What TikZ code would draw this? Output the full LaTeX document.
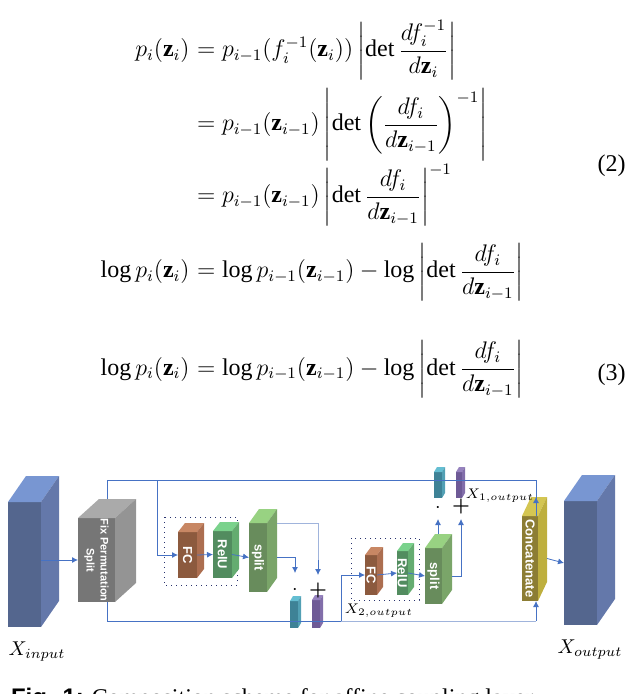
\documentclass[tikz,border=0pt]{standalone}
\usepackage{amsmath}
\usepackage{fontspec}
\setmainfont{Liberation Serif}
\setsansfont{Liberation Sans}
\usetikzlibrary{arrows.meta,calc}

\definecolor{lnblue}{RGB}{70,114,196}
\definecolor{pale}{RGB}{160,180,220}
\definecolor{boxline}{RGB}{40,50,110}
\definecolor{infront}{RGB}{84,102,142}\definecolor{inside}{RGB}{100,120,170}\definecolor{intop}{RGB}{120,150,210}
\definecolor{gyfront}{RGB}{118,118,118}\definecolor{gyside}{RGB}{148,148,148}\definecolor{gytop}{RGB}{170,170,170}
\definecolor{fcfront}{RGB}{140,90,62}\definecolor{fcside}{RGB}{172,110,80}\definecolor{fctop}{RGB}{200,135,100}
\definecolor{rlfront}{RGB}{82,140,95}\definecolor{rlside}{RGB}{100,172,112}\definecolor{rltop}{RGB}{122,210,140}
\definecolor{spfront}{RGB}{104,140,92}\definecolor{spside}{RGB}{122,165,105}\definecolor{sptop}{RGB}{152,210,130}
\definecolor{tlfront}{RGB}{62,130,150}\definecolor{tlside}{RGB}{82,160,180}\definecolor{tltop}{RGB}{100,190,210}
\definecolor{pufront}{RGB}{110,90,150}\definecolor{puside}{RGB}{130,110,170}\definecolor{putop}{RGB}{150,130,190}
\definecolor{ccfront}{RGB}{140,125,52}\definecolor{ccside}{RGB}{190,175,62}\definecolor{cctop}{RGB}{212,198,82}

% name, x, y, w, h, dx, dy, colour, label
\newcommand\prism[9]{%
  \node[face, fill=#8front, minimum width=#4*0.5pt, minimum height=#5*0.5pt,
        anchor=north west] (#1) at (#2,#3) {};
  \fill[#8top] (#1.north west) -- ++(#6,-#7) -- ($(#1.north east)+(#6,-#7)$) -- (#1.north east) -- cycle;
  \fill[#8side] (#1.north east) -- ++(#6,-#7) -- ($(#1.south east)+(#6,-#7)$) -- (#1.south east) -- cycle;
  \node[lbl] (#1-t) at (#1.center) {#9};}

\begin{document}
\begin{tikzpicture}[x=0.5pt, y=-0.5pt,
    face/.style={draw=none, inner sep=0pt, outer sep=0pt},
    lbl/.style={rotate=-90, text=white, inner sep=0pt, font=\sffamily\bfseries\fontsize{6.5}{7}\selectfont, align=center},
    eq/.style={inner sep=0pt, font=\fontsize{12}{14}\selectfont},
    arr/.style={draw=lnblue, line width=0.4pt, -{Latex[length=3pt,width=3pt]}},
    ln/.style={draw=lnblue, line width=0.4pt},
    pl/.style={draw=pale, line width=0.4pt},
    dotbox/.style={draw=boxline, dotted, line width=0.5pt}]
\useasboundingbox (0,0) rectangle (636,694);

% equations
\node[eq, anchor=base east] (l1) at (190,57) {$p_i(\mathbf{z}_i)$};
\node[eq, anchor=base west] (r1) at (190,57) {${}=p_{i-1}(f_i^{-1}(\mathbf{z}_i))\left|\det\dfrac{df_i^{-1}}{d\mathbf{z}_i}\right|$};
\node[eq, anchor=base west] (r2) at (190,131) {${}=p_{i-1}(\mathbf{z}_{i-1})\left|\det\left(\dfrac{df_i}{d\mathbf{z}_{i-1}}\right)^{-1}\right|$};
\node[eq, anchor=base west] (r3) at (190,203) {${}=p_{i-1}(\mathbf{z}_{i-1})\left|\det\dfrac{df_i}{d\mathbf{z}_{i-1}}\right|^{-1}$};
\node[eq, anchor=base east] (l4) at (190,278) {$\log p_i(\mathbf{z}_i)$};
\node[eq, anchor=base west] (r4) at (190,278) {${}=\log p_{i-1}(\mathbf{z}_{i-1})-\log\left|\det\dfrac{df_i}{d\mathbf{z}_{i-1}}\right|$};
\node[eq, anchor=base east] (l5) at (190,375) {$\log p_i(\mathbf{z}_i)$};
\node[eq, anchor=base west] (r5) at (190,375) {${}=\log p_{i-1}(\mathbf{z}_{i-1})-\log\left|\det\dfrac{df_i}{d\mathbf{z}_{i-1}}\right|$};
\node[eq, anchor=base east] (n2) at (626,172) {(2)};
\node[eq, anchor=base east] (n3) at (626,380) {(3)};

% blocks
\prism{in}{8}{502}{33}{125}{18}{26}{in}{}
\prism{perm}{78}{518}{37}{84}{21}{19}{gy}{\fontsize{5.5}{7}\selectfont Fix Permutation\\\fontsize{5.5}{7}\selectfont Split}
\draw[dotbox] (164,517) rectangle (237,585);
\draw[dotbox] (351,538) rectangle (419,600);
\prism{fca}{178}{532}{19}{46}{7}{9}{fc}{FC}
\prism{rla}{213}{531}{19}{47}{7}{9}{rl}{RelU}
\prism{spa}{249}{523}{18}{69}{10}{14}{sp}{split}
\prism{tla}{290}{601}{8}{27}{3}{5}{tl}{}
\prism{pua}{312}{600}{8}{28}{3}{5}{pu}{}
\prism{fcb}{365}{555}{12}{40}{6}{8}{fc}{FC}
\prism{rlb}{397}{551}{11}{44}{6}{8}{rl}{RelU}
\prism{spb}{425}{548}{17}{56}{10}{14}{sp}{split}
\prism{tlb}{434}{472}{8}{26}{3}{5}{tl}{}
\prism{pub}{456}{472}{6}{26}{3}{5}{pu}{}
\prism{cc}{522}{516}{16}{85}{9}{19}{cc}{Concatenate}
\prism{out}{564}{501}{33}{124}{18}{26}{in}{}

% junctions
\coordinate (ta) at (107,480);
\coordinate (tb) at (157,480);
\coordinate (tc) at (536,480);
\coordinate (ba) at (107,621);
\coordinate (bb) at (341,621);
\coordinate (bc) at (536,621);
\coordinate (ma) at (295,573);
\coordinate (pa) at (318,575);
\coordinate (mb) at (438,519);
\coordinate (pb) at (461,519);

% connectors
\draw[arr] (in.east |- perm.west) -- (perm.west);
\draw[ln] (perm.north -| ta) ++(0,-19) -- (ta) -- (tc);
\draw[arr] (tc) -- (cc.north -| tc) ++(0,-19);
\draw[arr] (tb) |- (fca.west);
\draw[arr] (fca.east) -- (rla.west);
\draw[arr] (rla.east) -- (spa.west);
\draw[arr] (spa.east) ++(10,0) -| (ma);
\draw[pl] (spa.north east) ++(10,0) -| (318,560);
\draw[arr] (318,560) -- (pa);
\draw[ln] (perm.south -| ba) -- (ba) -- (bb);
\draw[pl] (bb) -- (bc);
\draw[arr] (bc) -- (cc.south -| bc);
\draw[arr] (bb) |- (fcb.west);
\draw[arr] (fcb.east) -- (rlb.west);
\draw[arr] (rlb.east) -- (spb.west);
\draw[arr] (spb.north -| mb) ++(0,-14) -- (mb);
\draw[arr] (spb.east) ++(10,0) -| (pb);
\draw[arr] (cc.east) ++(9,0) -- (out.west);

% operators and labels
\node (dota) at (295,590) {$\cdot$};
\node (plsa) at (318,590) {$\boldsymbol{+}$};
\node (dotb) at (438,508) {$\cdot$};
\node (plsb) at (461,506) {$\boldsymbol{+}$};
\node[font=\scriptsize, inner sep=0pt] (xone) at (500,496) {$X_{1,output}$};
\node[font=\scriptsize, inner sep=0pt] (xtwo) at (379,611) {$X_{2,output}$};
\node (xin) at (37,652) {$X_{input}$};
\node (xout) at (590,650) {$X_{output}$};
\node[anchor=base west, font=\fontsize{12}{14}\selectfont] (cap) at (4,705) {{\sffamily\bfseries Fig. 1:} Composition scheme for affine coupling layer};
\end{tikzpicture}
\end{document}
